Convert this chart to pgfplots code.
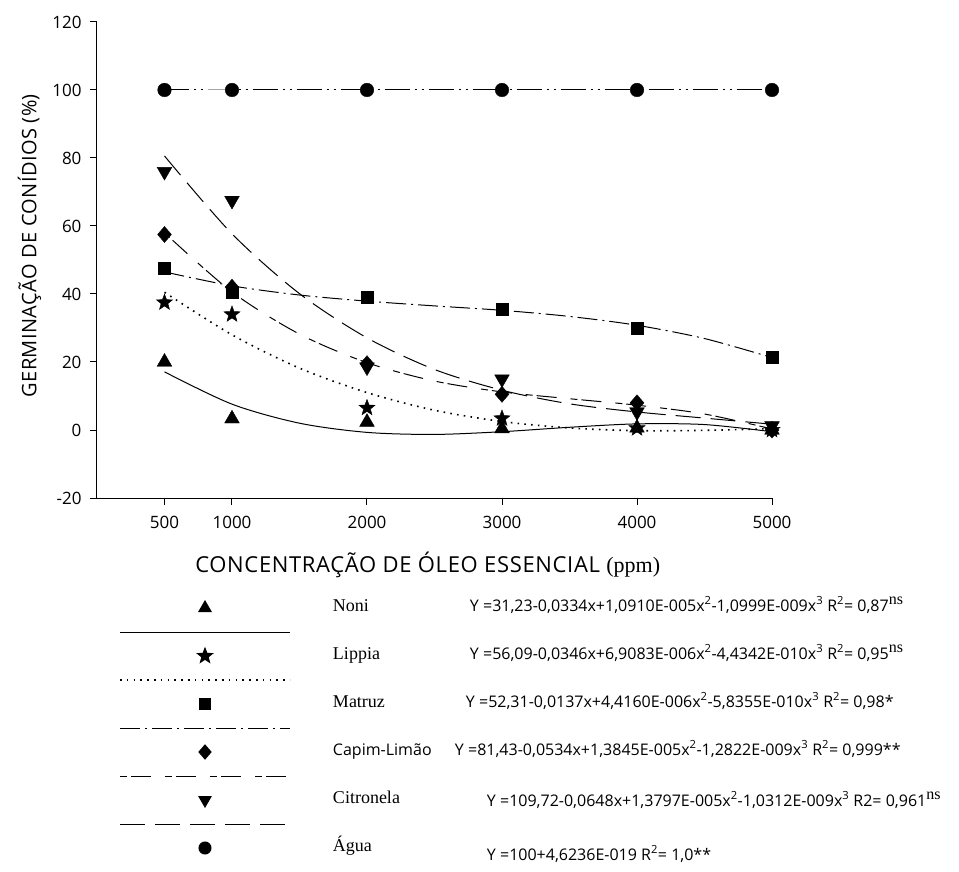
\documentclass[border=0pt]{standalone}
\usepackage{fontspec}
\setmainfont{Liberation Serif}
\setsansfont{Open Sans}
\usepackage{pgfplots}
\usepackage{pgfplotstable}
\pgfplotsset{compat=1.18}

\pgfdeclareplotmark{fstar}{%
  \pgfpathmoveto{\pgfqpointpolar{90}{\pgfplotmarksize}}%
  \pgfpathlineto{\pgfqpointpolar{126}{0.42\pgfplotmarksize}}%
  \pgfpathlineto{\pgfqpointpolar{162}{\pgfplotmarksize}}%
  \pgfpathlineto{\pgfqpointpolar{198}{0.42\pgfplotmarksize}}%
  \pgfpathlineto{\pgfqpointpolar{234}{\pgfplotmarksize}}%
  \pgfpathlineto{\pgfqpointpolar{270}{0.42\pgfplotmarksize}}%
  \pgfpathlineto{\pgfqpointpolar{306}{\pgfplotmarksize}}%
  \pgfpathlineto{\pgfqpointpolar{342}{0.42\pgfplotmarksize}}%
  \pgfpathlineto{\pgfqpointpolar{18}{\pgfplotmarksize}}%
  \pgfpathlineto{\pgfqpointpolar{54}{0.42\pgfplotmarksize}}%
  \pgfpathclose\pgfusepathqfillstroke}

% observed germination (%)
\pgfplotstableread{
x     noni  lippia matruz capim citro agua
500   20.0  37.5   47.5   57.5  76.0  100
1000  3.3   34.0   40.5   42.0  67.5  100
2000  2.3   6.5    39.0   19.5  18.5  100
3000  0.4   3.4    35.5   10.5  15.0  100
4000  0.6   0.5    30.0   8.0   5.3   100
5000  0.0   0.0    21.5   0.0   1.2   100
}\pts

% fitted curves (read from the drawn regression lines)
\pgfplotstableread{
x     noni  lippia matruz capim citro
500   17.1  40.5   46.5   58.0  80.6
1000  7.6   28.0   42.4   40.6  57.7
1500  2.0   18.2   39.7   28.2  40.1
2000  -0.7  11.0   37.9   19.8  27.1
2500  -1.3  5.8    36.5   14.4  17.8
3000  -0.5  2.5    35.2   11.2  11.7
3500  0.8   0.6    33.4   9.2   7.7
4000  1.8   -0.2   30.8   7.3   5.3
4500  1.6   -0.1   26.9   4.7   3.5
5000  -0.5  0.4    21.3   0.3   1.7
}\fits

\pgfplotsset{
  legline/.style={legend image code/.code={
     \path[draw=none,fill=none] (0pt,-6pt) rectangle (170pt,8pt);
     \draw[##1,mark=none,overlay] (0pt,-24pt) -- (170pt,-24pt);
     \draw[##1,/tikz/every mark/.append style={solid}] plot coordinates {(85pt,0pt)};
  }},
  legnoline/.style={legend image code/.code={
     \path[draw=none,fill=none] (0pt,-6pt) rectangle (170pt,8pt);
     \draw[##1,/tikz/every mark/.append style={solid}] plot coordinates {(85pt,0pt)};
  }},
  noniL/.style={solid},
  lippiaL/.style={line width=1.6pt,dash pattern=on 1.6pt off 5.2pt},
  matruzL/.style={dash pattern=on 20pt off 5pt on 2pt off 5pt},
  capimL/.style={dash pattern=on 7pt off 4pt on 20pt off 14pt},
  citroL/.style={dash pattern=on 25pt off 10pt},
  aguaL/.style={dash pattern=on 25pt off 5pt on 2pt off 5pt on 2pt off 5pt},
  noniM/.style={mark=triangle*,mark size=8.5pt},
  lippiaM/.style={mark=fstar,mark size=8.5pt},
  matruzM/.style={mark=square*,mark size=6pt},
  capimM/.style={mark=diamond*,mark size=8pt,mark options={xscale=1.15}},
  citroM/.style={mark=triangle*,mark size=8.5pt,mark options={rotate=180}},
  aguaM/.style={mark=*,mark size=6.8pt},
}

\newcommand{\sps}[1]{\textsuperscript{#1}}
\newcommand{\ns}{\textsuperscript{\rmfamily\fontsize{16}{16}\selectfont ns}}
\newcommand{\nm}{\rmfamily\fontsize{18}{20}\selectfont}

\begin{document}
\begin{tikzpicture}
\useasboundingbox (-97pt,-374pt) rectangle (862pt,498pt);
\begin{axis}[
  at={(0pt,0pt)}, anchor=south west,
  width=675pt, height=476pt, scale only axis,
  xmin=0, xmax=5000, ymin=-20, ymax=120,
  axis x line=bottom, axis y line=left,
  axis line style={-, line width=1pt},
  every tick/.style={black, line width=1pt},
  tick align=outside, major tick length=7pt,
  xtick={500,1000,2000,3000,4000,5000},
  ytick={-20,0,20,40,60,80,100,120},
  scaled x ticks=false,
  /pgf/number format/1000 sep={},
  /pgf/number format/assume math mode=true,
  ticklabel style={font=\sffamily\fontsize{17}{20}\selectfont},
  xticklabel style={yshift=-8pt},
  yticklabel style={xshift=-5pt},
  xlabel={CONCENTRAÇÃO DE ÓLEO ESSENCIAL {\rmfamily (ppm)}},
  ylabel={GERMINAÇÃO DE CONÍDIOS (\%)},
  xlabel style={font=\sffamily\fontsize{22}{26}\selectfont\addfontfeature{LetterSpace=3}, at={(axis description cs:0.49,-0.141)}, anchor=center},
  ylabel style={font=\sffamily\fontsize{20}{24}\selectfont\addfontfeature{LetterSpace=2}, at={(axis description cs:-0.1,0.53)}, anchor=center, rotate=0},
  legend cell align=left,
  legend style={at={(axis description cs:0,0)}, anchor=north west,
     xshift=23pt, yshift=-102pt, draw=none, fill=none,
     inner sep=0pt, outer sep=0pt, row sep=33pt, column sep=43pt,
     font=\sffamily\fontsize{16}{19}\selectfont,
     nodes={inner sep=0pt, text height=10pt, text depth=4pt, anchor=west}},
]
% fitted curves
\addplot[forget plot, black, line width=1pt, smooth, noniL] table[x=x,y=noni] {\fits};
\addplot[forget plot, black, smooth, lippiaL] table[x=x,y=lippia] {\fits};
\addplot[forget plot, black, line width=1pt, smooth, matruzL] table[x=x,y=matruz] {\fits};
\addplot[forget plot, black, line width=1pt, smooth, capimL] table[x=x,y=capim] {\fits};
\addplot[forget plot, black, line width=1pt, smooth, citroL] table[x=x,y=citro] {\fits};
\addplot[forget plot, black, line width=1pt, aguaL] table[x=x,y=agua] {\pts};
% observed points
\addplot[forget plot, only marks, black, noniM] table[x=x,y=noni] {\pts};
\addplot[forget plot, only marks, black, lippiaM] table[x=x,y=lippia] {\pts};
\addplot[forget plot, only marks, black, matruzM] table[x=x,y=matruz] {\pts};
\addplot[forget plot, only marks, black, capimM] table[x=x,y=capim] {\pts};
\addplot[forget plot, only marks, black, citroM] table[x=x,y=citro] {\pts};
\addplot[forget plot, only marks, black, aguaM] table[x=x,y=agua] {\pts};
% legend
\addlegendimage{legline, black, line width=1pt, noniL, noniM, mark size=7pt}
\addlegendentry{\makebox[137pt][l]{\nm Noni}Y =31,23-0,0334x+1,0910E-005x\sps{2}-1,0999E-009x\sps{3} R\sps{2}= 0,87\ns}
\addlegendimage{legline, black, lippiaL, lippiaM, mark size=7pt}
\addlegendentry{\makebox[137pt][l]{\nm Lippia}Y =56,09-0,0346x+6,9083E-006x\sps{2}-4,4342E-010x\sps{3} R\sps{2}= 0,95\ns}
\addlegendimage{legline, black, line width=1pt, matruzL, matruzM, mark size=5.5pt}
\addlegendentry{\makebox[133pt][l]{\nm Matruz}Y =52,31-0,0137x+4,4160E-006x\sps{2}-5,8355E-010x\sps{3} R\sps{2}= 0,98*}
\addlegendimage{legline, black, line width=1pt, capimL, capimM, mark size=7pt}
\addlegendentry{\makebox[122pt][l]{Capim-Limão}Y =81,43-0,0534x+1,3845E-005x\sps{2}-1,2822E-009x\sps{3} R\sps{2}= 0,999**}
\addlegendimage{legline, black, line width=1pt, citroL, citroM, mark size=7pt}
\addlegendentry{\makebox[154pt][l]{\nm Citronela}\raisebox{-3pt}{Y =109,72-0,0648x+1,3797E-005x\sps{2}-1,0312E-009x\sps{3} R2= 0,961\ns}}
\addlegendimage{legnoline, black, line width=1pt, aguaM, mark size=6pt}
\addlegendentry{\makebox[154pt][l]{\nm Água}\raisebox{-9pt}{Y =100+4,6236E-019 R\sps{2}= 1,0**}}
\end{axis}
\end{tikzpicture}
\end{document}
